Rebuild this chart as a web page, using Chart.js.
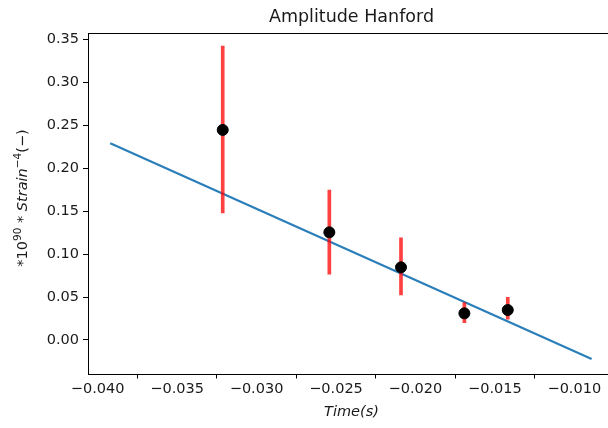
<!DOCTYPE html>
<html>
<head>
<meta charset="utf-8">
<script src="https://cdn.jsdelivr.net/npm/chart.js@4/dist/chart.umd.min.js"></script>
<style>
html,body{margin:0;padding:0;overflow:hidden;background:#fff;}
#wrap{position:relative;width:630px;height:428px;}
</style>
</head>
<body>
<div id="wrap"><canvas id="c" width="630" height="428"></canvas></div>
<script>
const timeValues = [-0.03213, -0.02542, -0.02091, -0.01692, -0.01419];
const amplitudeValues = [0.2445, 0.1253, 0.0846, 0.031, 0.0349];
const errorLow = [0.148, 0.0765, 0.0524, 0.0201, 0.0241];
const errorHigh = [0.342, 0.1746, 0.119, 0.0434, 0.0497];
const fitTime = [-0.03921, -0.00891];
const fitAmplitude = [0.229, -0.0221];
const xTickValues = [-0.040, -0.035, -0.030, -0.025, -0.020, -0.015, -0.010];
const yTickValues = [0.00, 0.05, 0.10, 0.15, 0.20, 0.25, 0.30, 0.35];

const FONT = "'DejaVu Sans', sans-serif";
const TICK_PX = 14.5;
const TEXT = '#1a1a1a';

const fmt = (v, d) => v.toFixed(d).replace('-', '\u2212');

const decorPlugin = {
  id: 'decor',
  afterDraw(chart) {
    const ctx = chart.ctx;
    const a = chart.chartArea;
    ctx.save();
    // spines
    ctx.strokeStyle = '#000';
    ctx.lineWidth = 1;
    ctx.strokeRect(Math.round(a.left) + 0.5, Math.round(a.top) + 0.5,
                   Math.round(a.right - a.left), Math.round(a.bottom - a.top));
    // title
    ctx.fillStyle = TEXT;
    ctx.textAlign = 'center';
    ctx.textBaseline = 'alphabetic';
    ctx.font = '17.5px ' + FONT;
    ctx.fillText('Amplitude Hanford', (a.left + a.right) / 2, 22);
    // x label
    ctx.font = 'italic 14.5px ' + FONT;
    ctx.fillText('Time(s)', (a.left + a.right) / 2, 416);
    // y label (mathtext-like)
    const pieces = [
      {t: '*10', f: TICK_PX + 'px ' + FONT, dy: 0},
      {t: '90', f: '10.5px ' + FONT, dy: -6},
      {t: ' * ', f: TICK_PX + 'px ' + FONT, dy: 0},
      {t: 'Strain', f: 'italic ' + TICK_PX + 'px ' + FONT, dy: 0},
      {t: '\u22124', f: '10.5px ' + FONT, dy: -6},
      {t: '(\u2212)', f: TICK_PX + 'px ' + FONT, dy: 0}
    ];
    let total = 0;
    pieces.forEach(p => { ctx.font = p.f; p.w = ctx.measureText(p.t).width; total += p.w; });
    ctx.translate(27, 198);
    ctx.rotate(-Math.PI / 2);
    ctx.textAlign = 'left';
    let x = -total / 2;
    pieces.forEach(p => { ctx.font = p.f; ctx.fillText(p.t, x, p.dy); x += p.w; });
    ctx.restore();
  }
};

const errData = timeValues.map((t, i) => ({x: t, y: [errorLow[i], errorHigh[i]]}));
const ptData = timeValues.map((t, i) => ({x: t, y: amplitudeValues[i]}));
const fitData = fitTime.map((t, i) => ({x: t, y: fitAmplitude[i]}));

new Chart(document.getElementById('c'), {
  data: {
    datasets: [
      {type: 'scatter', data: ptData, backgroundColor: '#000', borderColor: '#000',
       pointRadius: 5.5, pointHoverRadius: 5.5, order: 0},
      {type: 'bar', data: errData, backgroundColor: 'rgba(255,0,0,0.75)', borderWidth: 0,
       barThickness: 3, order: 1},
      {type: 'line', data: fitData, borderColor: '#2a7fba', borderWidth: 2.2, pointRadius: 0,
       fill: false, order: 2}
    ]
  },
  options: {
    responsive: false,
    animation: false,
    events: [],
    layout: {padding: {left: 0, top: 33, right: 15, bottom: 0}},
    plugins: {legend: {display: false}, title: {display: false}, tooltip: {enabled: false}},
    scales: {
      x: {
        type: 'linear', min: -0.04061, max: -0.00744, offset: false,
        afterFit: s => { s.height = 54.5; },
        afterBuildTicks: s => { s.ticks = xTickValues.map(v => ({value: v})); },
        grid: {display: true, drawOnChartArea: false, drawTicks: true, tickLength: 5, tickColor: '#000'},
        border: {display: false},
        ticks: {color: TEXT, font: {family: FONT, size: TICK_PX}, padding: 2, maxRotation: 0,
                autoSkip: false, callback: v => fmt(v, 3)}
      },
      y: {
        type: 'linear', min: -0.039, max: 0.3573,
        afterFit: s => { s.width = 88; },
        afterBuildTicks: s => { s.ticks = yTickValues.map(v => ({value: v})); },
        grid: {display: true, drawOnChartArea: false, drawTicks: true, tickLength: 5, tickColor: '#000'},
        border: {display: false},
        ticks: {color: TEXT, font: {family: FONT, size: TICK_PX}, padding: 4,
                autoSkip: false, callback: v => fmt(v, 2)}
      }
    }
  },
  plugins: [decorPlugin]
});
</script>
</body>
</html>
